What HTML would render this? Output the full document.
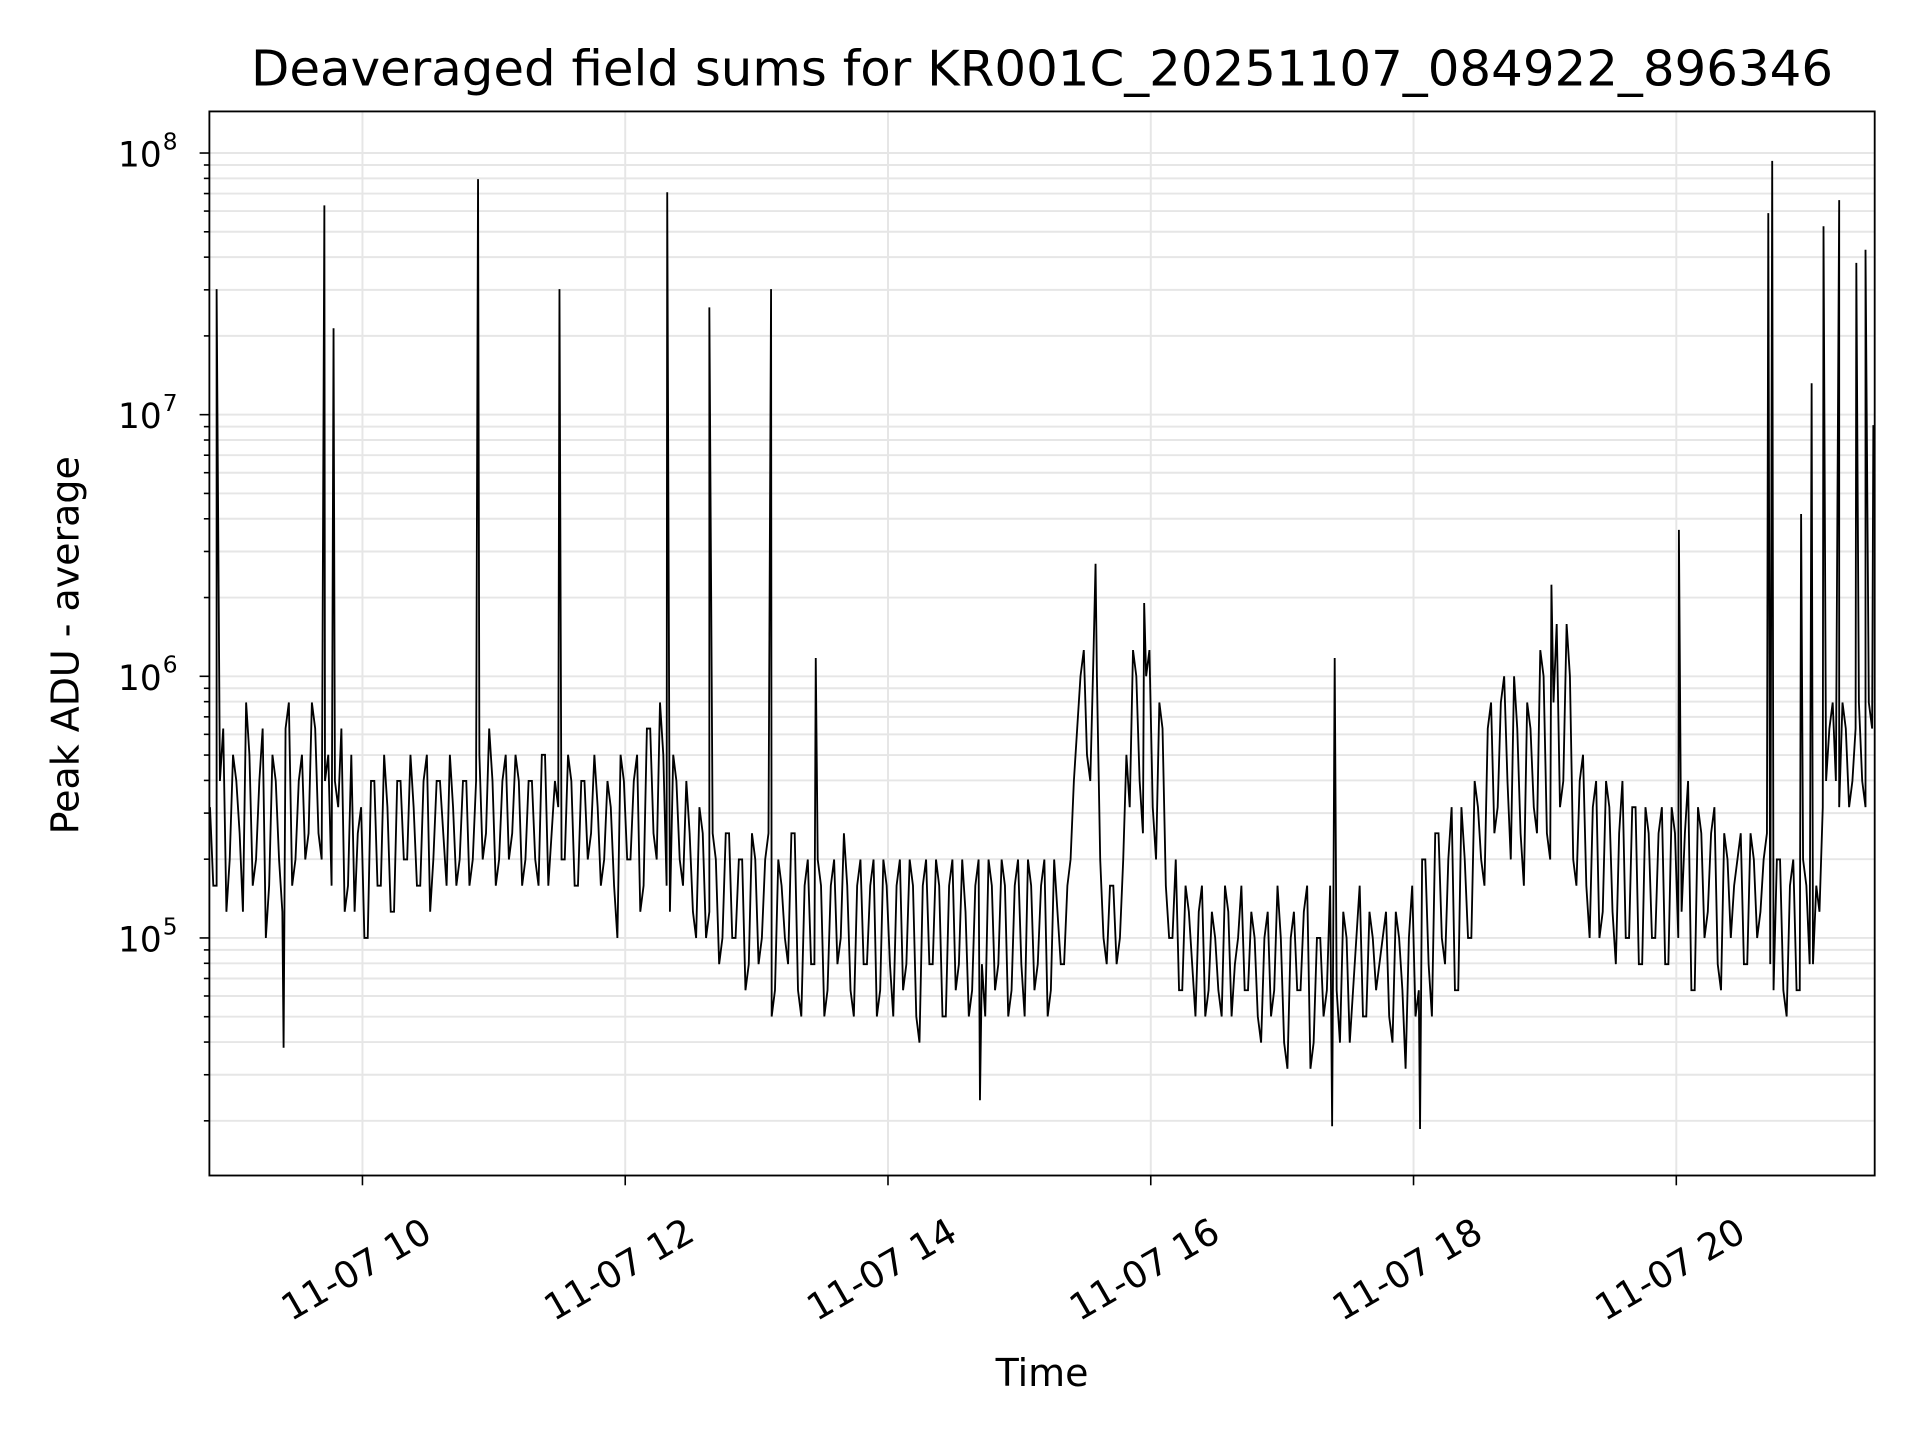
<!DOCTYPE html>
<html><head><meta charset="utf-8"><style>
html,body{margin:0;padding:0;background:#fff;}
svg{display:block;font-family:"DejaVu Sans","Liberation Sans",sans-serif;}
</style></head><body>
<svg id="chart" width="1920" height="1440" viewBox="0 0 1568 1176" xmlns="http://www.w3.org/2000/svg">
<rect width="1568" height="1176" fill="#fff"/>
<text x="851" y="70" font-size="40" text-anchor="middle" textLength="1292" lengthAdjust="spacingAndGlyphs">Deaveraged field sums for KR001C_20251107_084922_896346</text>
<g id="grid"></g>
<g id="series"></g>
<g id="axes"></g>
<text x="851" y="1132" font-size="31" text-anchor="middle">Time</text>
<text transform="translate(64,527) rotate(-90)" font-size="31" text-anchor="middle">Peak ADU - average</text>
</svg>
<script>
const startHour = 8.84;
const stepHour = 0.05;
const logValues = [
5.5,5.2,5.8,5.3,5.6,5.1,5.7,5.3,5.8,5.2,5.6,5.1,5.9,5.3,5.7,5.4,5.8,5.3,5.7,5.6,
5.8,5.2,5.1,5.5,5.0,5.6,5.2,5.5,5.1,5.6,5.3,5.5,5.2,5.7,5.3,5.6,5.2,5.5,5.3,5.6,
5.3,5.7,5.4,5.6,5.3,5.7,5.4,5.6,5.3,5.6,5.2,5.7,5.4,5.5,5.3,5.6,5.2,5.6,5.4,5.5,
5.3,5.5,5.0,5.6,5.3,5.7,5.2,5.8,5.3,5.7,5.1,5.6,5.2,5.4,5.0,5.4,5.1,5.3,5.0,5.4,
5.0,5.3,4.9,5.3,5.0,5.4,4.8,5.2,4.9,5.4,4.7,5.3,4.9,5.2,4.8,5.3,5.0,5.2,4.7,5.3,
4.9,5.3,4.8,5.2,4.7,5.3,4.9,5.2,4.6,5.3,4.9,5.2,4.7,5.3,4.9,5.1,4.8,5.3,4.7,5.2,
4.9,5.2,4.8,5.3,4.7,5.2,4.9,5.3,4.8,5.1,4.9,5.3,5.8,6.1,5.6,6.0,5.0,5.2,4.9,5.3,
5.5,6.0,5.4,6.1,5.3,5.8,5.0,5.3,4.8,5.1,4.7,5.2,4.8,5.0,4.7,5.1,4.9,5.2,4.8,5.0,
4.6,5.1,4.8,5.0,4.5,5.1,4.8,5.2,4.6,5.0,4.8,5.1,4.6,5.0,4.8,5.2,4.7,5.0,4.9,5.1,
4.6,5.0,4.5,5.2,4.8,5.3,4.7,5.4,4.9,5.5,4.8,5.3,5.0,5.5,5.2,5.9,5.5,6.0,5.3,5.8,
5.2,5.8,5.4,6.0,5.3,6.2,5.6,6.0,5.2,5.7,5.0,5.6,5.1,5.5,4.9,5.6,5.0,5.5,4.9,5.4,
5.0,5.5,4.9,5.4,5.1,5.6,4.8,5.4,5.1,5.5,4.8,5.3,5.2,5.4,4.9,5.3,5.1,5.4,4.8,5.3,
4.7,5.3,4.8,5.2,4.9,5.1,5.6,5.9,5.5,5.8,5.6,5.9,5.5,5.8
];
const logValuesB = [
5.2,5.6,5.1,5.7,5.4,5.9,5.2,5.6,5.0,5.7,5.3,5.8,5.2,5.6,5.3,5.9,5.4,5.6,5.2,5.5,
5.1,5.7,5.4,5.0,5.6,5.2,5.7,5.1,5.6,5.3,5.7,5.2,5.6,5.1,5.6,5.4,5.7,5.2,5.6,5.2,
5.6,5.3,5.8,5.2,5.6,5.3,5.7,5.2,5.6,5.3,5.7,5.2,5.6,5.3,5.7,5.2,5.6,5.3,5.7,5.2,
5.6,5.2,5.7,5.3,5.6,5.1,5.8,5.4,5.9,5.2,5.7,5.3,5.6,5.1,5.5,5.0,5.4,4.9,5.4,5.0,
5.3,4.8,5.4,4.9,5.3,4.7,5.3,5.0,5.4,4.8,5.2,4.9,5.3,4.7,5.2,4.9,5.4,4.8,5.2,4.9,
5.2,4.7,5.3,4.9,5.2,4.8,5.3,4.7,5.2,4.9,5.3,4.7,5.2,4.8,5.3,4.7,5.2,4.9,5.3,4.8,
5.3,4.7,5.2,4.9,5.3,4.8,5.2,4.7,5.3,4.9,5.2,5.6,6.0,5.7,6.1,5.3,4.9,5.2,5.0,5.7,
6.1,5.6,6.0,5.5,5.9,5.2,5.0,4.8,5.2,4.9,5.1,4.7,5.1,4.8,5.2,4.7,5.0,4.8,5.1,4.7,
5.0,4.7,5.2,4.6,5.0,4.8,5.1,4.5,5.0,4.7,5.2,4.8,5.1,4.6,5.0,4.7,5.1,4.8,5.0,4.7,
5.1,4.8,5.0,4.7,5.3,4.9,5.4,5.0,5.3,4.8,5.5,5.0,5.6,5.3,5.8,5.4,5.9,5.6,6.0,5.4,
5.9,5.5,6.1,5.4,5.9,5.5,6.2,5.3,5.6,5.2,5.5,5.0,5.6,5.1,5.4,5.0,5.5,4.9,5.5,5.0,
5.4,4.9,5.5,5.0,5.4,4.8,5.5,5.0,5.4,4.9,5.4,5.0,5.3,4.9,5.4,5.0,5.3,4.9,5.3,4.8,
5.2,4.8,5.3,4.9,5.2,5.5,5.8,5.6,5.9,5.5,5.8,5.6,5.9,5.6
];
const spikeHours = [8.89,9.4,9.71,9.78,10.88,11.5,12.32,12.64,13.11,13.45,14.7,15.58,15.95,17.38,17.4,18.05,19.05,20.02,20.7,20.73,20.95,21.03,21.12,21.24,21.37,21.44,21.5];
const spikeLogs  = [7.48,4.58,7.8,7.33,7.9,7.48,7.85,7.41,7.48,6.07,4.38,6.43,6.28,4.28,6.07,4.27,6.35,6.56,7.77,7.97,6.62,7.12,7.72,7.82,7.58,7.63,6.96];
const xTickHours = [10,12,14,16,18,20];
const xTickLabels = ["11-07 10","11-07 12","11-07 14","11-07 16","11-07 18","11-07 20"];
const yTickExps = [5,6,7,8];

const L=171,R=1531,T=91,B=960;
const xMin=8.835,xMax=21.51, yMin=4.092, yMax=8.159;
const xs=h=>L+(h-xMin)/(xMax-xMin)*(R-L);
const ys=v=>B-(v-yMin)/(yMax-yMin)*(B-T);
const NS="http://www.w3.org/2000/svg";
function mk(tag,attrs,parent){const e=document.createElementNS(NS,tag);for(const k in attrs)e.setAttribute(k,attrs[k]);parent.appendChild(e);return e;}
const grid=document.getElementById('grid'),ser=document.getElementById('series'),ax=document.getElementById('axes');
for(let n=4;n<=8;n++){for(let k=1;k<=9;k++){const v=n+Math.log10(k);if(v<yMin||v>yMax)continue;const y=ys(v);
 const g=mk('line',{x1:L,x2:R,y1:y,y2:y,stroke:'#e6e6e6','stroke-width':1.6},grid);
 
 
 const t=mk('line',{x1:L-(k==1?8:4.5),x2:L,y1:y,y2:y,stroke:'#000','stroke-width':1.3},ax);
 
 
}}
xTickHours.forEach((h,i)=>{const x=xs(h);
 const g=mk('line',{x1:x,x2:x,y1:T,y2:B,stroke:'#e6e6e6','stroke-width':1.6},grid);
 
 
 const t=mk('line',{x1:x,x2:x,y1:B,y2:B+8,stroke:'#000','stroke-width':1.3},ax);
 
 
 const cx=x-5, cy=B+87;
 const tx=mk('text',{x:cx,y:cy,'font-size':30,'text-anchor':'middle',transform:`rotate(-30 ${cx} ${cy-10})`},ax);
 tx.textContent=xTickLabels[i];
 
 
});
yTickExps.forEach(n=>{const y=ys(n);
 const tx=mk('text',{x:L-39,y:y+11,'font-size':28,'text-anchor':'end'},ax);
 tx.textContent='10';
 
 
 const sp=mk('text',{x:L-32,y:y-3,'font-size':19,'text-anchor':'middle'},ax);
 sp.textContent=String(n);
 
 
});
const pts=logValues.map((v,i)=>[startHour+i*stepHour,v]);
logValuesB.forEach((v,i)=>pts.push([startHour+(i+0.5)*stepHour,v]));
spikeHours.forEach((h,i)=>pts.push([h,spikeLogs[i]]));
pts.sort((a,b)=>a[0]-b[0]);
const d=pts.filter(p=>p[0]<=xMax).map((p,i)=>(i?'L':'M')+xs(p[0]).toFixed(1)+','+ys(p[1]).toFixed(1)).join('');
const path=mk('path',{d:d,fill:'none',stroke:'#000','stroke-width':1.5},ser);


const frame=mk('rect',{x:L,y:T,width:R-L,height:B-T,fill:'none',stroke:'#000','stroke-width':1.5},ax);


</script>
</body></html>
